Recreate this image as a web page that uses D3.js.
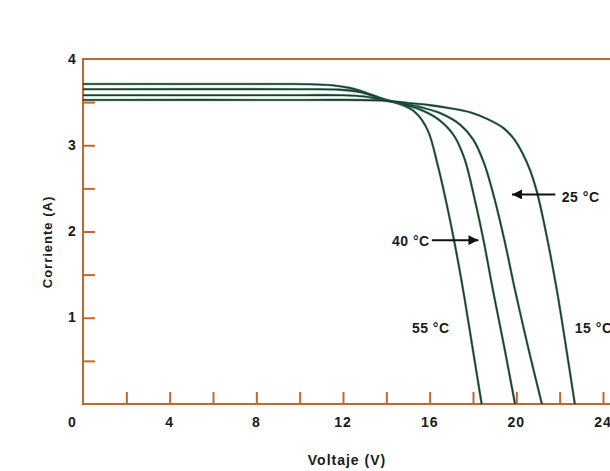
<!DOCTYPE html>
<html>
<head>
<meta charset="utf-8">
<script src="https://cdn.jsdelivr.net/npm/d3@7"></script>
<style>
  html, body { margin: 0; padding: 0; background: #ffffff; }
  svg text { font-family: "Liberation Sans", Arial, Helvetica, sans-serif; font-weight: bold; fill: #1a1a1a; }
</style>
</head>
<body>
<svg id="chart" width="610" height="471"></svg>
<script>
// ---- data ----
const seriesNames = ["55°C", "40°C", "25°C", "15°C"];
const voltage55 = [0, 9, 10.5, 11.5, 12.3, 13.0, 13.7, 14.6, 15.3, 15.9, 16.4, 16.8, 17.2, 17.6, 18.0, 18.4];
const current55 = [3.71, 3.71, 3.708, 3.695, 3.665, 3.615, 3.55, 3.48, 3.39, 3.18, 2.74, 2.3, 1.8, 1.24, 0.62, 0];
const voltage40 = [0, 10, 11.8, 12.8, 13.7, 14.5, 15.5, 16.4, 17.1, 17.6, 18.1, 18.5, 18.92, 19.45, 19.94];
const current40 = [3.65, 3.65, 3.645, 3.615, 3.545, 3.49, 3.42, 3.3, 3.12, 2.85, 2.35, 1.88, 1.32, 0.65, 0];
const voltage25 = [0, 10, 12, 13, 13.7, 14.6, 15.6, 16.6, 17.4, 18.0, 18.5, 18.95, 19.45, 19.94, 20.55, 21.18];
const current25 = [3.58, 3.58, 3.58, 3.565, 3.535, 3.49, 3.44, 3.36, 3.24, 3.07, 2.8, 2.42, 1.9, 1.32, 0.65, 0];
const voltage15 = [0, 10, 13.7, 15, 16.0, 16.94, 17.9, 18.7, 19.4, 19.9, 20.3, 20.65, 20.95, 21.4, 21.87, 22.3, 22.7];
const current15 = [3.525, 3.525, 3.52, 3.49, 3.465, 3.43, 3.38, 3.3, 3.2, 3.07, 2.9, 2.7, 2.46, 1.95, 1.32, 0.65, 0];

const xTickValues = [2, 4, 6, 8, 10, 12, 14, 16, 18, 20, 22, 24];
const xTickLabels = [4, 8, 12, 16, 20, 24];
const yTickValues = [0.5, 1, 1.5, 2, 2.5, 3, 3.5];
const yTickLabels = [1, 2, 3, 4];
const originLabel = "0";
const xTitle = "Voltaje (V)";
const yTitle = "Corriente (A)";

// annotations
const annotLabels = ["25 °C", "40 °C", "55 °C", "15 °C"];
const annotV = [22.1, 16.0, 16.05, 22.7];
const annotI = [2.38, 1.88, 0.87, 0.87];
const arrowFromV = [21.8, 16.1];
const arrowToV = [19.8, 18.25];
const arrowI = [2.43, 1.90];

// ---- drawing ----
const svg = d3.select("#chart");
const axisColor = "#c2672f";
const curveColor = "#173f2c";

const x = d3.scaleLinear().domain([0, 24]).range([83, 603]);
const y = d3.scaleLinear().domain([0, 4]).range([404, 59]);

const right = 612;
svg.append("line").attr("x1", x(0)).attr("x2", right).attr("y1", y(4)).attr("y2", y(4))
  .attr("stroke", axisColor).attr("stroke-width", 2);

const gx = svg.append("g").attr("transform", `translate(0,${y(0)})`)
  .call(d3.axisBottom(x).tickValues(xTickValues).tickSize(-12).tickFormat("").tickSizeOuter(0));
gx.select(".domain").remove();
gx.selectAll(".tick line").attr("stroke", axisColor).attr("stroke-width", 2);
svg.append("line").attr("x1", x(0) - 1).attr("x2", right).attr("y1", y(0)).attr("y2", y(0))
  .attr("stroke", axisColor).attr("stroke-width", 2);

const gy = svg.append("g").attr("transform", `translate(${x(0)},0)`)
  .call(d3.axisLeft(y).tickValues(yTickValues).tickSize(-12).tickFormat("").tickSizeOuter(0));
gy.select(".domain").remove();
gy.selectAll(".tick line").attr("stroke", axisColor).attr("stroke-width", 2);
svg.append("line").attr("x1", x(0)).attr("x2", x(0)).attr("y1", y(0) + 1).attr("y2", y(4) - 1)
  .attr("stroke", axisColor).attr("stroke-width", 2);

svg.selectAll(".xl").data(xTickLabels).enter().append("text")
  .attr("x", d => x(d)).attr("y", y(0) + 19).attr("text-anchor", "middle")
  .attr("dominant-baseline", "middle").style("font-size", "14px").style("letter-spacing", "1px")
  .text(d => d);
svg.append("text").attr("x", x(0) - 11).attr("y", y(0) + 19).attr("text-anchor", "middle")
  .attr("dominant-baseline", "middle").style("font-size", "14px").text(originLabel);
svg.selectAll(".yl").data(yTickLabels).enter().append("text")
  .attr("x", x(0) - 11).attr("y", d => y(d) + 1).attr("text-anchor", "middle")
  .attr("dominant-baseline", "middle").style("font-size", "14px")
  .text(d => d);

svg.append("text").attr("x", 347).attr("y", 461).attr("text-anchor", "middle")
  .attr("dominant-baseline", "middle").style("font-size", "14px").style("letter-spacing", "1px")
  .text(xTitle);
svg.append("text").attr("transform", "translate(49,242) rotate(-90)").attr("text-anchor", "middle")
  .attr("dominant-baseline", "middle").style("font-size", "13px").style("letter-spacing", "1px")
  .text(yTitle);

const series = [
  { v: voltage55, i: current55 },
  { v: voltage40, i: current40 },
  { v: voltage25, i: current25 },
  { v: voltage15, i: current15 }
];
const line = d3.line().x(d => x(d[0])).y(d => y(d[1])).curve(d3.curveCatmullRom.alpha(0.5));
series.forEach((s, k) => {
  const pts = s.v.map((v, j) => [v, s.i[j]]);
  svg.append("path").datum(pts).attr("d", line).attr("fill", "none")
    .attr("stroke", "#2f7a55").attr("stroke-width", 2.6).attr("stroke-opacity", 0.55)
    .attr("class", "curve-" + k);
  svg.append("path").datum(pts).attr("d", line).attr("fill", "none")
    .attr("stroke", curveColor).attr("stroke-width", 1.6);
});

annotLabels.forEach((t, k) => {
  svg.append("text").attr("x", x(annotV[k])).attr("y", y(annotI[k]))
    .attr("text-anchor", k === 1 ? "end" : (k === 2 ? "middle" : "start"))
    .attr("dominant-baseline", "middle").style("font-size", "14px").style("letter-spacing", "0.5px")
    .text(t);
});

svg.append("defs").append("marker").attr("id", "ah").attr("viewBox", "0 0 10 10")
  .attr("refX", 10).attr("refY", 5).attr("markerWidth", 10).attr("markerHeight", 10)
  .attr("markerUnits", "userSpaceOnUse").attr("orient", "auto")
  .append("path").attr("d", "M0,0 L10,5 L0,10 z").attr("fill", "#111");
arrowFromV.forEach((fv, k) => {
  svg.append("line").attr("x1", x(fv)).attr("x2", x(arrowToV[k]))
    .attr("y1", y(arrowI[k])).attr("y2", y(arrowI[k]))
    .attr("stroke", "#111").attr("stroke-width", 2).attr("marker-end", "url(#ah)");
});
</script>
</body>
</html>
